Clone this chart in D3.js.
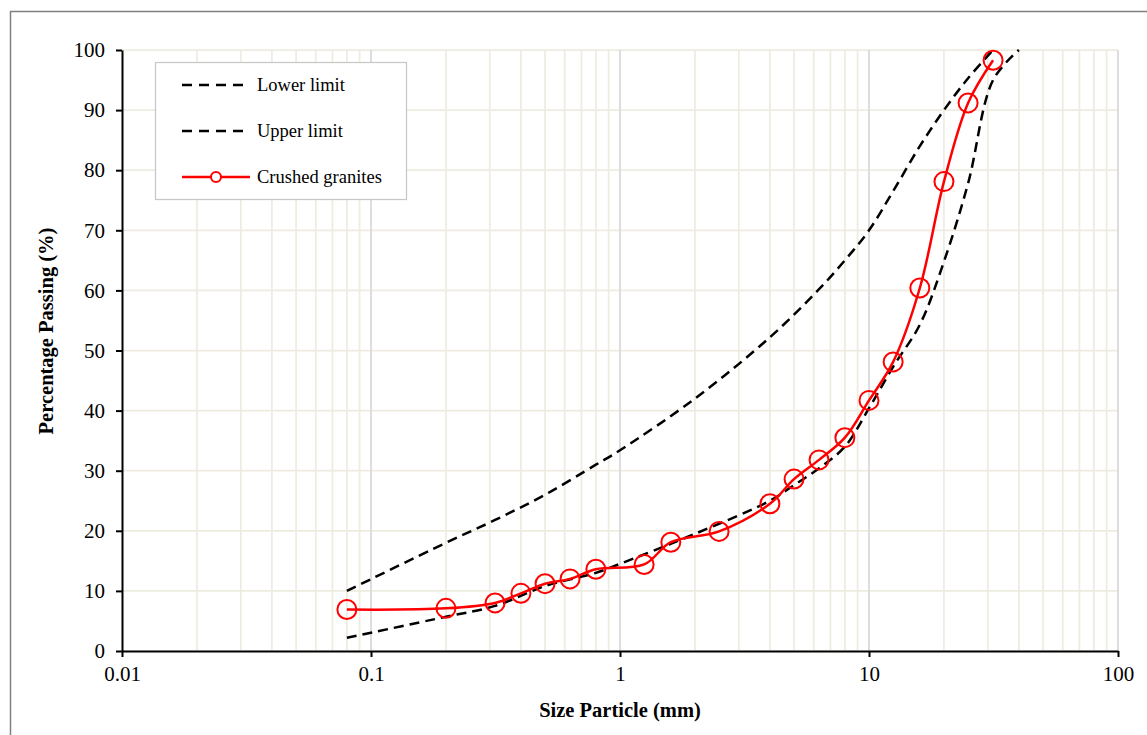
<!DOCTYPE html>
<html>
<head>
<meta charset="utf-8">
<script src="https://cdn.jsdelivr.net/npm/d3@7"></script>
<style>
  html, body { margin: 0; padding: 0; background: #fff; }
  svg { display: block; }
  text { font-family: "Liberation Serif", "Times New Roman", serif; fill: #000; }
</style>
</head>
<body>
<svg id="chart" width="1147" height="735"></svg>
<script>
// ---- Data ----
const granSizes = [0.08, 0.2, 0.315, 0.4, 0.5, 0.63, 0.8, 1.25, 1.6, 2.5, 4, 5, 6.3, 8, 10, 12.5, 16, 20, 25, 31.5];
const granValues = [6.9, 7.1, 8.0, 9.6, 11.2, 12.0, 13.6, 14.4, 18.1, 19.9, 24.5, 28.6, 31.8, 35.5, 41.7, 48.1, 60.4, 78.1, 91.2, 98.3];

const upperSizes = [0.08, 0.2, 0.315, 0.5, 0.8, 1, 2, 4, 6.3, 8, 10, 12.5, 16, 20, 25, 31.5];
const upperValues = [10, 18, 21.8, 26, 31, 33.4, 42, 52.2, 60.2, 65, 70, 76.5, 84, 90, 95.3, 100];

const lowerSizes = [0.08, 0.2, 0.315, 0.5, 0.8, 1, 2, 4, 5, 6.3, 8, 10, 12.5, 16, 20, 25, 31.5, 40];
const lowerValues = [2.2, 5.7, 7.5, 10.8, 13, 14.5, 19.5, 25, 27.6, 30.4, 34, 40.4, 47.3, 54.3, 64.8, 77.8, 95, 100];

const xTickValues = [0.01, 0.1, 1, 10, 100];
const xTickLabels = ["0.01", "0.1", "1", "10", "100"];
const yTickValues = [0, 10, 20, 30, 40, 50, 60, 70, 80, 90, 100];

const legendLabels = ["Lower limit", "Upper limit", "Crushed granites"];

// ---- Layout ----
const svg = d3.select("#chart");
const plot = { left: 122, top: 50, right: 1118, bottom: 651 };

const x = d3.scaleLog().domain([0.01, 100]).range([plot.left, plot.right]);
const y = d3.scaleLinear().domain([0, 100]).range([plot.bottom, plot.top]);

// outer border
svg.append("rect")
  .attr("x", 10.5).attr("y", 11.5)
  .attr("width", 1200).attr("height", 800)
  .attr("fill", "none").attr("stroke", "#7f7f7f").attr("stroke-width", 1.5);

// minor vertical gridlines
const minor = [];
for (let d = -2; d < 2; d++) {
  for (let k = 2; k <= 9; k++) minor.push(k * Math.pow(10, d));
}
const grid = svg.append("g");
grid.selectAll("line.minor").data(minor).enter().append("line")
  .attr("x1", d => x(d)).attr("x2", d => x(d))
  .attr("y1", plot.top).attr("y2", plot.bottom)
  .attr("stroke", "#eeece1").attr("stroke-width", 1.75);
// horizontal gridlines
grid.selectAll("line.h").data(yTickValues).enter().append("line")
  .attr("x1", plot.left).attr("x2", plot.right)
  .attr("y1", d => y(d)).attr("y2", d => y(d))
  .attr("stroke", "#eeece1").attr("stroke-width", 1.75);
// major vertical gridlines
grid.selectAll("line.major").data(xTickValues.slice(1)).enter().append("line")
  .attr("x1", d => x(d)).attr("x2", d => x(d))
  .attr("y1", plot.top).attr("y2", plot.bottom)
  .attr("stroke", "#d9d9d9").attr("stroke-width", 1.75);

// axes
const xAxis = d3.axisBottom(x).tickValues(xTickValues)
  .tickFormat((d, i) => xTickLabels[i]).tickSizeInner(6).tickSizeOuter(0).tickPadding(9);
const gx = svg.append("g").attr("transform", `translate(0,${plot.bottom})`).call(xAxis);
gx.select(".domain").attr("stroke", "#000").attr("stroke-width", 2);
gx.selectAll(".tick line").attr("stroke", "#000").attr("stroke-width", 2);
gx.selectAll(".tick text").style("font-family", "Liberation Serif").style("font-size", "21px").attr("fill", "#000");

const yAxis = d3.axisLeft(y).tickValues(yTickValues).tickSizeInner(6).tickSizeOuter(0).tickPadding(11);
const gy = svg.append("g").attr("transform", `translate(${plot.left},0)`).call(yAxis);
gy.select(".domain").attr("stroke", "#000").attr("stroke-width", 2);
gy.selectAll(".tick line").attr("stroke", "#000").attr("stroke-width", 2);
gy.selectAll(".tick text").style("font-family", "Liberation Serif").style("font-size", "21px").attr("fill", "#000");

// axis titles
svg.append("text")
  .attr("x", 620).attr("y", 717)
  .attr("text-anchor", "middle")
  .style("font-size", "20.5px").style("font-weight", "bold")
  .text("Size Particle (mm)");
svg.append("text")
  .attr("transform", "translate(53,331) rotate(-90)")
  .attr("text-anchor", "middle")
  .style("font-size", "20.5px").style("font-weight", "bold")
  .text("Percentage Passing (%)");

// lines
const line = d3.line().x(d => x(d[0])).y(d => y(d[1])).curve(d3.curveCatmullRom.alpha(0.5));
const zip = (a, b) => a.map((v, i) => [v, b[i]]);

svg.append("path").datum(zip(lowerSizes, lowerValues))
  .attr("d", line).attr("fill", "none")
  .attr("stroke", "#000").attr("stroke-width", 2.5).attr("stroke-dasharray", "10,6");
svg.append("path").datum(zip(upperSizes, upperValues))
  .attr("d", line).attr("fill", "none")
  .attr("stroke", "#000").attr("stroke-width", 2.5).attr("stroke-dasharray", "10,6");

const gran = zip(granSizes, granValues);
svg.append("path").datum(gran)
  .attr("d", line).attr("fill", "none")
  .attr("stroke", "#ff0000").attr("stroke-width", 2.5);
svg.selectAll("circle.pt").data(gran).enter().append("circle")
  .attr("cx", d => x(d[0])).attr("cy", d => y(d[1])).attr("r", 9.5)
  .attr("fill", "none").attr("stroke", "#ff0000").attr("stroke-width", 2);

// legend
const lg = svg.append("g");
lg.append("rect").attr("x", 155.5).attr("y", 62.5).attr("width", 251).attr("height", 137)
  .attr("fill", "#fff").attr("stroke", "#c8c8c8").attr("stroke-width", 1.25);
const ly = [85, 131, 177];
legendLabels.forEach((lab, i) => {
  if (i < 2) {
    lg.append("line").attr("x1", 182).attr("x2", 246).attr("y1", ly[i]).attr("y2", ly[i])
      .attr("stroke", "#000").attr("stroke-width", 2.5).attr("stroke-dasharray", "10,7");
  } else {
    lg.append("line").attr("x1", 182).attr("x2", 250).attr("y1", ly[i]).attr("y2", ly[i])
      .attr("stroke", "#ff0000").attr("stroke-width", 2.5);
    lg.append("circle").attr("cx", 216).attr("cy", ly[i]).attr("r", 5)
      .attr("fill", "#fff").attr("stroke", "#ff0000").attr("stroke-width", 2);
  }
  lg.append("text").attr("x", 257).attr("y", ly[i] + 6)
    .style("font-size", "18.5px").text(lab);
});
</script>
</body>
</html>
